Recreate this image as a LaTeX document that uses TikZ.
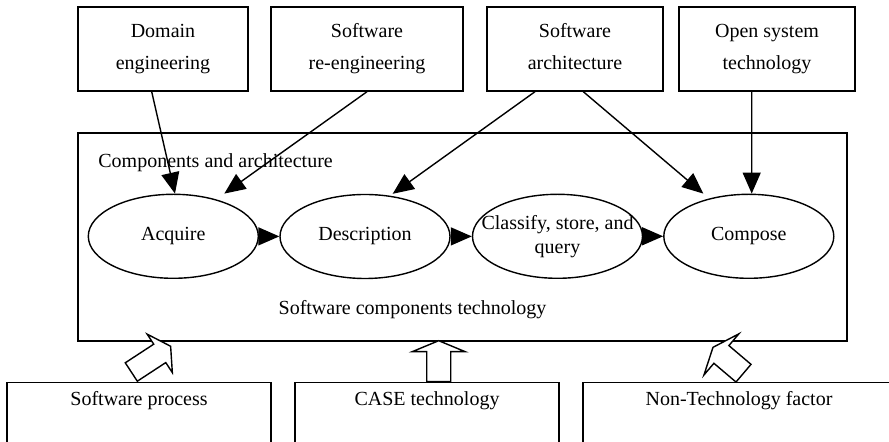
\documentclass[tikz,border=0pt]{standalone}
\usepackage{fontspec}
\setmainfont{Liberation Serif}
\usetikzlibrary{arrows.meta,calc,shapes.geometric}

\begin{document}
\begin{tikzpicture}[x=0.5pt, y=0.5pt, font=\fontsize{10}{12}\selectfont,
	    srcbox/.style={draw, line width=0.7pt, minimum height=42pt, align=center, font=\fontsize{10}{16}\selectfont,
	        execute at end node={\vphantom{g}}},
	    stage/.style={draw, ellipse, line width=0.7pt, minimum width=85pt, minimum height=42pt, inner sep=0pt},
	    basebox/.style={draw, line width=0.7pt, anchor=north, inner ysep=4.5pt, text depth=30pt},
	    link/.style={line width=0.7pt, -{Triangle[length=10.5pt,width=9pt]}},
	    hollow/.style={draw, fill=white, line width=0.7pt, line join=miter}]
	\useasboundingbox (0,0) rectangle (889,-442);
	\clip (0,0) rectangle (889,-442);

	% sources on top
	\node[srcbox, minimum width=85pt] (dom) at (163,-49) {Domain\\engineering};
	\node[srcbox, minimum width=96pt] (reng) at (367,-49) {Software\\re-engineering};
	\node[srcbox, minimum width=88pt] (arch) at (575,-49) {Software\\architecture};
	\node[srcbox, minimum width=88pt] (osys) at (767,-49) {Open system\\technology};

	% components technology frame
	\node[draw, line width=0.8pt, minimum width=384.5pt, minimum height=103.9pt] (sct) at (462.5,-236.9) {};
	\node[anchor=west, inner sep=0pt] (sctarch) at (98,-163) {Components and architecture};
	\node (sctname) at (412.5,-310) {Software components technology};

	\node[stage] (acq) at (173.3,-236.3) {Acquire};
	\node[stage] (desc) at (365,-236.5) {Description};
	\node[stage] (cls) at (557.5,-236.3) {\makebox[0pt]{\begin{tabular}{@{}c@{}}Classify, store, and\\query\end{tabular}}};
	\node[stage] (cps) at (748.8,-236.3) {Compose};

	\draw[link] (acq) -- (desc);
	\draw[link] (desc) -- (cls);
	\draw[link] (cls) -- (cps);

	\draw[link] ($(dom.south)+(-11.3,0)$) -- ($(acq.north)+(1.7,0)$);
	\draw[link] (reng.south) -- ($(acq.north)+(51,0)$);
	\draw[link] ($(arch.south)+(-40,0)$) -- ($(desc.north)+(27.7,0)$);
	\draw[link] ($(arch.south)+(8.3,0)$) -- ($(cps.north)+(-45.5,0)$);
	\draw[link] ($(osys.south)+(-15.3,0)$) -- ($(cps.north)+(2.9,0)$);

	% supporting factors below
	\node[basebox, minimum width=132pt] (proc) at (139,-381.7) {Software process};
	\node[basebox, minimum width=132pt] (case) at (427,-381.7) {CASE technology};
	\node[basebox, minimum width=156pt] (ntf) at (739,-381.7) {Non-Technology factor};

	\draw[hollow, shift={($(proc.north)+(-7.7,9.7)$)}, rotate=-56.8]
		(-11,0) -- (11,0) -- (11,34) -- (23,34) -- (0,47) -- (-23,34) -- (-11,34) -- cycle;
	\draw[hollow, shift={($(case.north)+(11.7,0)$)}]
		(-12,0) -- (12,0) -- (12,30) -- (26.5,30) -- (0,41) -- (-26.5,30) -- (-12,30) -- cycle;
	\draw[hollow, shift={($(ntf.north)+(4.5,8.5)$)}, rotate=49.7]
		(-11.6,0) -- (11.6,0) -- (11.6,29) -- (27,29) -- (0,40) -- (-27,29) -- (-11.6,29) -- cycle;
\end{tikzpicture}
\end{document}
